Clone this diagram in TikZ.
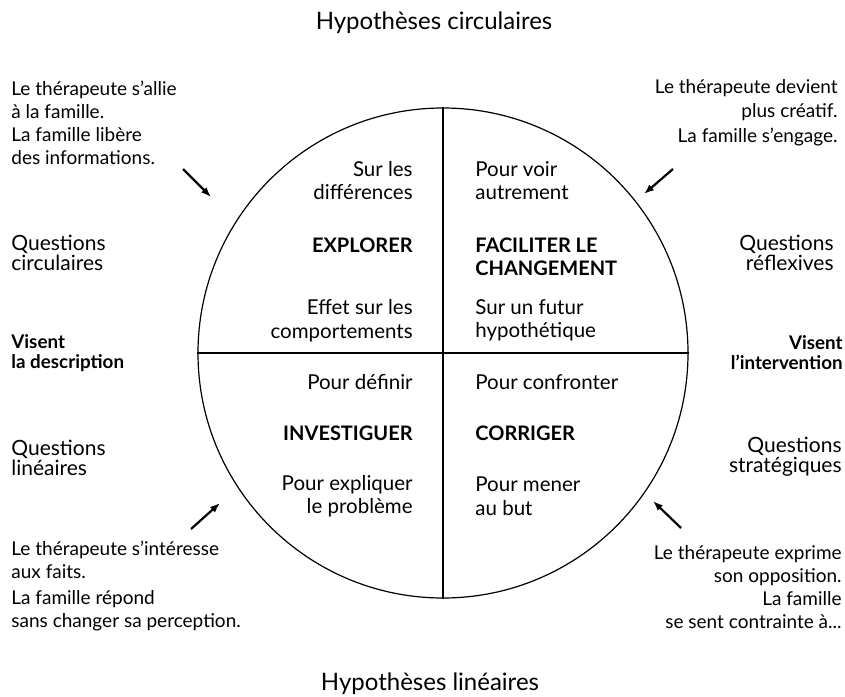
\documentclass[tikz,border=0pt]{standalone}
\usepackage{fontspec}
\setmainfont{Lato}
\usetikzlibrary{arrows.meta}

\begin{document}
\begin{tikzpicture}[x=1pt,y=-1pt,>=Latex,thick]
\tikzstyle{small}=[inner sep=0pt,font=\fontsize{19}{23}\selectfont]
\tikzstyle{big}=[inner sep=0pt,align=left,font=\fontsize{21}{20}\selectfont]
\tikzstyle{title}=[inner sep=0pt,font=\fontsize{24}{24}\selectfont]
\tikzstyle{quad}=[inner sep=0pt,font=\fontsize{20.5}{23.5}\selectfont]
\tikzstyle{verb}=[inner sep=0pt,font=\bfseries\fontsize{20}{23}\selectfont]
\tikzstyle{aim}=[inner sep=0pt,font=\bfseries\fontsize{18.8}{20}\selectfont]
\tikzstyle{hint}=[->,line width=2.2pt,>={Latex[length=10pt,width=7.5pt]}]
\useasboundingbox (0,0) rectangle (845,696);

\node[circle,draw,line width=1.2pt,minimum size=490pt,inner sep=0pt] (C) at (443,353) {};
\draw[line width=1.2pt] (C.north) -- (C.south);
\draw[line width=1.2pt] (C.west) -- (C.east);

\node[title] (HC) at (434,23) {Hypothèses circulaires};
\node[title] (HL) at (430,684) {Hypothèses linéaires};

% quadrants
\node[quad,anchor=east,align=right] (D) at (413,180.5) {Sur les\\différences};
\node[verb,anchor=east,align=right] (EX) at (413,245) {EXPLORER};
\node[quad,anchor=east,align=right] (E) at (413,320.5) {Effet sur les\\comportements};
\node[quad,anchor=west,align=left] (V) at (475,180.5) {Pour voir\\autrement};
\node[verb,anchor=west,align=left] (FC) at (475,256.5) {FACILITER LE\\CHANGEMENT};
\node[quad,anchor=west,align=left] (F) at (475,320.5) {Sur un futur\\hypothétique};
\node[quad,anchor=east,align=right] (PD) at (413,382) {Pour définir};
\node[verb,anchor=east,align=right] (IN) at (413,433) {INVESTIGUER};
\node[quad,anchor=east,align=right] (PE) at (413,496) {Pour expliquer\\le problème};
\node[quad,anchor=west,align=left] (PC) at (475,382) {Pour confronter};
\node[verb,anchor=west,align=left] (CO) at (475,433) {CORRIGER};
\node[quad,anchor=west,align=left] (PM) at (475,496) {Pour mener\\au but};

% left side
\node[small,anchor=west,align=left] (TL) at (11,122.5) {Le thérapeute s’allie\\à la famille.\\La famille libère\\des informations.};
\node[big,anchor=west,align=left] (QC) at (11,253) {Questions\\circulaires};
\node[aim,anchor=west,align=left] (VD) at (11,353) {Visent\\la description};
\node[big,anchor=west,align=left] (QL) at (11,458) {Questions\\linéaires};
\node[small,anchor=west,align=left] (BL) at (11,586) {Le thérapeute s’intéresse\\aux faits.\\[3pt]La famille répond\\sans changer sa perception.};

% right side
\node[small,anchor=east,align=right] (TR) at (838,112.5) {Le thérapeute devient\\[1.5pt]plus créatif.\\[1.5pt]La famille s’engage.};
\node[big,anchor=east,align=right] (QR) at (834,252.5) {Questions\\réflexives};
\node[aim,anchor=east,align=right] (VI) at (843,353) {Visent\\l’intervention};
\node[big,anchor=east,align=right] (QS) at (842,457) {Questions\\stratégiques};
\node[small,anchor=east,align=right] (BR) at (842,587) {Le thérapeute exprime\\son opposition.\\La famille\\se sent contrainte à...};

% arrows
\coordinate (a1) at (183,169); \coordinate (b1) at (211,197);
\coordinate (a2) at (673,169); \coordinate (b2) at (644,194);
\coordinate (a3) at (191,529); \coordinate (b3) at (220,503);
\coordinate (a4) at (681,528); \coordinate (b4) at (653,501);
\draw[hint] (a1) -- (b1);
\draw[hint] (a2) -- (b2);
\draw[hint] (a3) -- (b3);
\draw[hint] (a4) -- (b4);
\end{tikzpicture}
\end{document}
